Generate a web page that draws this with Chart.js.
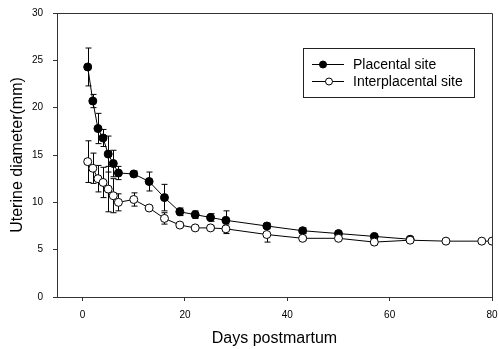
<!DOCTYPE html>
<html>
<head>
<meta charset="utf-8">
<script src="https://cdn.jsdelivr.net/npm/chart.js@4/dist/chart.umd.min.js"></script>
<style>
  html, body { margin: 0; padding: 0; background: #fff; }
  #wrap { width: 499px; height: 349px; }
</style>
</head>
<body>
<div id="wrap"><canvas id="uterusChart" width="499" height="349"></canvas></div>
<script>
// values
const placentalDays = [1, 2, 3, 4, 5, 6, 7, 10, 13, 16, 19, 22, 25, 28, 36, 43, 50, 57, 64];
const placentalMean = [24.3, 20.7, 17.8, 16.8, 15.1, 14.1, 13.1, 13.0, 12.2, 10.5, 9.0, 8.7, 8.4, 8.1, 7.5, 7.0, 6.7, 6.4, 6.1];
const placentalErr = [2.0, 0.7, 1.6, 0.9, 1.9, 1.4, 0.7, 0.3, 1.0, 1.4, 0.4, 0.4, 0.4, 1.0, 0.3, 0.3, 0.2, 0.2, 0.2];

const interDays = [1, 2, 3, 4, 5, 6, 7, 10, 13, 16, 19, 22, 25, 28, 36, 43, 50, 57, 64, 71, 78, 80];
const interMean = [14.3, 13.6, 12.5, 12.1, 11.4, 10.7, 10.0, 10.3, 9.4, 8.3, 7.6, 7.3, 7.3, 7.2, 6.6, 6.2, 6.2, 5.8, 6.0, 5.9, 5.9, 5.9];
const interErr = [2.2, 1.6, 1.4, 1.6, 2.4, 1.8, 0.9, 0.7, 0.2, 0.6, 0.2, 0.2, 0.2, 0.5, 0.8, 0.2, 0.2, 0.3, 0.2, 0, 0, 0];

const xTicks = [0, 20, 40, 60, 80];
const yTicks = [0, 5, 10, 15, 20, 25, 30];

const toPoints = (xs, ys) => xs.map((d, i) => ({ x: d, y: ys[i] }));

const errorBars = {
    id: 'errorBars',
    beforeDatasetsDraw(chart) {
        const ctx = chart.ctx;
        const xs = chart.scales.x;
        const ys = chart.scales.y;
        ctx.save();
        ctx.strokeStyle = '#000';
        ctx.lineWidth = 1;
        chart.data.datasets.forEach((ds) => {
            ds.data.forEach((p, i) => {
                const e = ds.errors[i];
                if (!e) return;
                const px = Math.round(xs.getPixelForValue(p.x)) + 0.5;
                const top = ys.getPixelForValue(p.y + e);
                const bot = ys.getPixelForValue(p.y - e);
                ctx.beginPath();
                ctx.moveTo(px, top);
                ctx.lineTo(px, bot);
                ctx.moveTo(px - 3, top);
                ctx.lineTo(px + 3, top);
                ctx.moveTo(px - 3, bot);
                ctx.lineTo(px + 3, bot);
                ctx.stroke();
            });
        });
        ctx.restore();
    },
};

const frameAndLegend = {
    id: 'frameAndLegend',
    afterDraw(chart) {
        const ctx = chart.ctx;
        const a = chart.chartArea;
        ctx.save();
        ctx.strokeStyle = '#333';
        ctx.lineWidth = 1;
        ctx.beginPath();
        ctx.moveTo(a.left, a.top + 0.5);
        ctx.lineTo(a.right + 0.5, a.top + 0.5);
        ctx.lineTo(a.right + 0.5, a.bottom);
        ctx.stroke();

        // legend box
        const bx = 303, by = 48, bw = 171, bh = 49;
        ctx.strokeStyle = '#222';
        ctx.strokeRect(bx + 0.5, by + 0.5, bw, bh);
        ctx.font = '14px "Liberation Sans", Arial, sans-serif';
        ctx.textBaseline = 'middle';
        ctx.fillStyle = '#000';
        const rows = [
            { ds: chart.data.datasets[0], y: 64, mx: 323 },
            { ds: chart.data.datasets[1], y: 81, mx: 329 },
        ];
        rows.forEach((r) => {
            ctx.strokeStyle = '#000';
            ctx.beginPath();
            ctx.moveTo(312, r.y + 0.5);
            ctx.lineTo(344, r.y + 0.5);
            ctx.stroke();
            ctx.beginPath();
            ctx.arc(r.mx, r.y + 0.5, 3.5, 0, Math.PI * 2);
            ctx.fillStyle = r.ds.pointBackgroundColor;
            ctx.fill();
            ctx.stroke();
            ctx.fillStyle = '#000';
            ctx.fillText(r.ds.label, 353, r.y + 1);
        });
        ctx.restore();
    },
};

new Chart(document.getElementById('uterusChart'), {
    type: 'line',
    data: {
        datasets: [
            {
                label: 'Placental site',
                data: toPoints(placentalDays, placentalMean),
                errors: placentalErr,
                borderColor: '#000',
                borderWidth: 1,
                pointRadius: 4,
                pointBackgroundColor: '#000',
                pointBorderColor: '#000',
                pointBorderWidth: 1,
                order: 1,
            },
            {
                label: 'Interplacental site',
                data: toPoints(interDays, interMean),
                errors: interErr,
                borderColor: '#000',
                borderWidth: 1,
                pointRadius: 4,
                pointBackgroundColor: '#fff',
                pointBorderColor: '#000',
                pointBorderWidth: 1,
                order: 0,
            },
        ],
    },
    options: {
        responsive: false,
        animation: false,
        layout: { padding: { top: 13, right: 7, left: 0, bottom: 0 } },
        plugins: {
            legend: { display: false },
            tooltip: { enabled: false },
        },
        scales: {
            x: {
                type: 'linear',
                min: -5,
                max: 80,
                afterBuildTicks: (s) => { s.ticks = xTicks.map((v) => ({ value: v })); },
                afterFit: (s) => { s.height = 52; s.paddingLeft = 0; s.paddingRight = 0; },
                grid: { display: true, drawOnChartArea: false, tickLength: 4, color: '#333' },
                border: { display: true, color: '#333', width: 1 },
                ticks: {
                    padding: 8,
                    color: '#000',
                    font: { family: '"Liberation Sans", Arial, sans-serif', size: 10 },
                    maxRotation: 0,
                },
                title: {
                    display: true,
                    text: 'Days postmartum',
                    color: '#000',
                    font: { family: '"Liberation Sans", Arial, sans-serif', size: 16 },
                    padding: { top: 4, bottom: 1 },
                },
            },
            y: {
                type: 'linear',
                min: 0,
                max: 30,
                afterBuildTicks: (s) => { s.ticks = yTicks.map((v) => ({ value: v })); },
                afterFit: (s) => { s.width = 57; s.paddingTop = 0; s.paddingBottom = 0; },
                grid: { display: true, drawOnChartArea: false, tickLength: 4, color: '#333' },
                border: { display: true, color: '#333', width: 1 },
                ticks: {
                    padding: 10,
                    color: '#000',
                    font: { family: '"Liberation Sans", Arial, sans-serif', size: 10 },
                },
                title: {
                    display: true,
                    text: 'Uterine diameter(mm)',
                    color: '#000',
                    font: { family: '"Liberation Sans", Arial, sans-serif', size: 16 },
                    padding: { top: 8, bottom: 0 },
                },
            },
        },
    },
    plugins: [errorBars, frameAndLegend],
});
</script>
</body>
</html>
